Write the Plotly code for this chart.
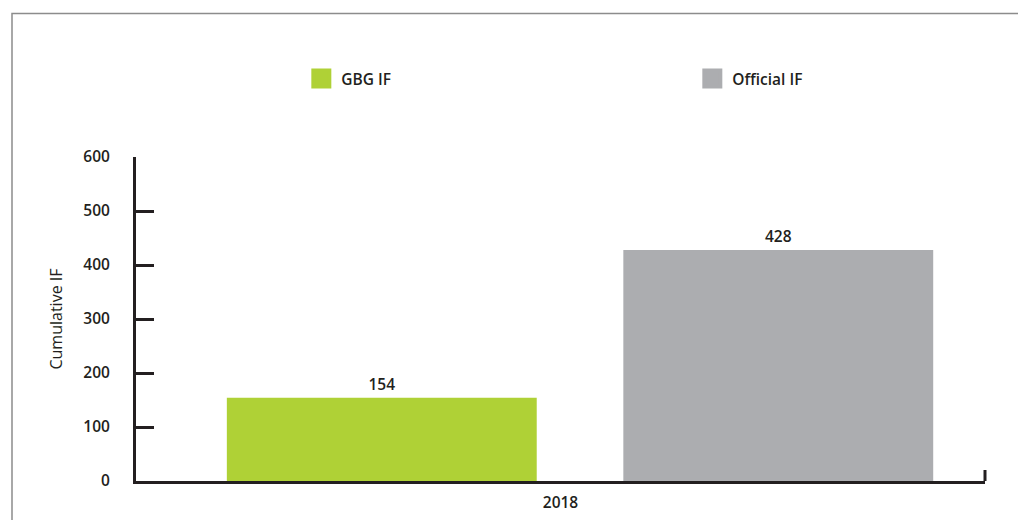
import plotly.graph_objects as go

# Chart data
years = ["2018"]
series_names = ["GBG IF", "Official IF"]
gbg_values = [154]
official_values = [428]
y_ticks = [0, 100, 200, 300, 400, 500, 600]

GREEN = "#afd136"
GRAY = "#acadb0"
INK = "#231f20"
FONT = "Open Sans"
WEIGHT = 600

fig = go.Figure()

# Bars: two series placed side by side on the single year category
fig.add_trace(go.Bar(
    x=years, y=gbg_values, name=series_names[0],
    marker=dict(color=GREEN, line=dict(width=0)),
    width=0.365, offset=-0.393,
    text=gbg_values, texttemplate="%{y}", textposition="outside",
    textfont=dict(family=FONT, size=15.5, color=INK, weight=WEIGHT),
    cliponaxis=False, showlegend=False,
))
fig.add_trace(go.Bar(
    x=years, y=official_values, name=series_names[1],
    marker=dict(color=GRAY, line=dict(width=0)),
    width=0.365, offset=0.074,
    text=official_values, texttemplate="%{y}", textposition="outside",
    textfont=dict(family=FONT, size=15.5, color=INK, weight=WEIGHT),
    cliponaxis=False, showlegend=False,
))

# Legend entries drawn as large square swatches
for name, color in zip(series_names, [GREEN, GRAY]):
    fig.add_trace(go.Scatter(
        x=[None], y=[None], mode="markers", name=name,
        marker=dict(symbol="square", size=16, color=color,
                    line=dict(width=4, color=color)),
        showlegend=True, hoverinfo="skip",
    ))

fig.update_layout(
    width=1018, height=520,
    margin=dict(l=136, r=33, t=157, b=39, autoexpand=False),
    paper_bgcolor="white", plot_bgcolor="white",
    font=dict(family=FONT, size=16, color=INK, weight=WEIGHT),
    barmode="overlay",
    legend=dict(
        orientation="h",
        xref="container", yref="container",
        x=0.296, y=0.848, xanchor="left", yanchor="middle",
        entrywidth=346, entrywidthmode="pixels",
        font=dict(family=FONT, size=15.5, color=INK, weight=WEIGHT),
        bgcolor="rgba(0,0,0,0)",
    ),
    xaxis=dict(
        type="category", range=[-0.5, 0.5],
        showline=True, linecolor=INK, linewidth=3,
        ticks="", showgrid=False, zeroline=False,
        tickfont=dict(family=FONT, size=15.5, color=INK, weight=WEIGHT),
        ticklabelstandoff=5, automargin=False,
        fixedrange=True,
    ),
    yaxis=dict(
        range=[0, 600], tickvals=y_ticks,
        showline=True, linecolor=INK, linewidth=3,
        ticks="inside", ticklen=18, tickwidth=2.5, tickcolor=INK,
        showgrid=False, zeroline=False,
        tickfont=dict(family=FONT, size=15.5, color=INK, weight=WEIGHT),
        ticklabelstandoff=20, automargin=False,
        title=dict(text="Cumulative IF",
                   font=dict(family=FONT, size=16, color=INK, weight=400),
                   standoff=17),
        fixedrange=True,
    ),
    shapes=[
        # frame around the figure (top and left edges visible)
        dict(type="rect", xref="paper", yref="paper",
             x0=(12 - 136) / 849, x1=1.1, y0=-0.2, y1=(481 - 13.5) / 324,
             line=dict(color="#8c8c8c", width=1.5), fillcolor="rgba(0,0,0,0)",
             layer="below"),
        # end tick at right end of the x axis
        dict(type="line", xref="paper", yref="paper",
             x0=1, x1=1, y0=0, y1=11 / 324,
             line=dict(color=INK, width=3)),
    ],
)

fig.write_html("out.html")
